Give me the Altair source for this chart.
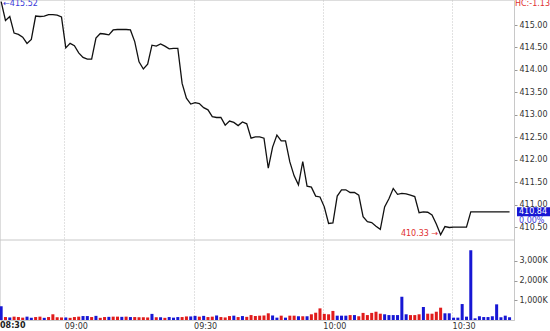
import altair as alt
import pandas as pd

START_MINUTE = 525  # 08:45, minutes after midnight

prices = [
    415.52, 415.10, 415.19, 414.82, 414.79, 414.73, 414.59, 414.68, 415.20, 415.19,
    415.20, 415.23, 415.23, 415.22, 415.18, 414.49, 414.59, 414.54, 414.38, 414.28,
    414.24, 414.24, 414.71, 414.81, 414.80, 414.78, 414.89, 414.90, 414.90, 414.90,
    414.89, 414.63, 414.18, 414.02, 414.13, 414.55, 414.53, 414.58, 414.53, 414.47,
    414.48, 414.48, 413.70, 413.37, 413.24, 413.27, 413.25, 413.16, 413.11, 412.96,
    412.94, 412.94, 412.77, 412.86, 412.83, 412.76, 412.84, 412.80, 412.48, 412.51,
    412.51, 412.48, 411.81, 412.28, 412.55, 412.42, 412.42, 411.95, 411.64, 411.44,
    411.96, 411.41, 411.39, 411.19, 411.17, 410.95, 410.58, 410.59, 411.19, 411.33,
    411.33, 411.27, 411.27, 411.21, 410.73, 410.62, 410.60, 410.52, 410.45, 410.95,
    411.13, 411.36, 411.23, 411.25, 411.24, 411.21, 411.18, 410.82, 410.84, 410.83,
    410.77, 410.57, 410.33, 410.51, 410.49, 410.50, 410.50, 410.50, 410.50, 410.84,
    410.84, 410.84, 410.84, 410.84, 410.84, 410.84, 410.84, 410.84, 410.84,
]

volume_k = [
    700, 150, 130, 170, 150, 120, 170, 110, 150, 170,
    110, 150, 290, 140, 130, 130, 110, 150, 170, 200,
    200, 150, 210, 110, 150, 160, 170, 170, 160, 170,
    150, 150, 140, 140, 130, 310, 140, 140, 110, 150,
    120, 150, 150, 180, 180, 210, 170, 210, 150, 170,
    230, 150, 130, 200, 220, 150, 200, 160, 250, 200,
    220, 230, 340, 230, 120, 220, 120, 220, 220, 190,
    190, 190, 290, 370, 590, 310, 290, 460, 220, 220,
    220, 250, 250, 190, 360, 250, 360, 420, 320, 290,
    250, 250, 250, 1180, 290, 250, 250, 290, 660, 320,
    320, 420, 625, 340, 340, 120, 120, 810, 170, 3540,
    85, 190, 150, 150, 190, 795, 140, 220, 140,
]

direction = list(
    "BRBRRRBBRRBRRRRBRRRBBRBRRBRRBRBRRRRBRBRBBBRRBBRBRRBRRRBRBRR"
    "R"
    "RRRBBRBRRBRBRRRRRRBBBRBRRRRRRBBBBBBRRRBRRRRBBBBBBBBBBBBBBBB"
)

tick_minutes = [540, 570, 600, 630]
tick_labels = ["09:00", "09:30", "10:00", "10:30"]
price_ticks = [410.5, 411.0, 411.5, 412.0, 412.5, 413.0, 413.5, 414.0, 414.5, 415.0]
volume_ticks = [1000, 2000, 3000]
day_label = ["08:30"]
change_label = ["HC:-1.13"]
pct_label = ["0.00%"]

n = len(prices)
df = pd.DataFrame({
    "minute": [START_MINUTE + i for i in range(n)],
    "price": prices,
    "vol": volume_k[:n],
    "dir": direction[:n],
})

FONT = "DejaVu Sans"
BLUE = "#1717d4"
RED = "#e01b1b"
TXT_BLUE = "#3a3ad8"
TXT_RED = "#e03030"
AXIS_GRAY = "#c8c8c8"

label_expr = ""
for m, l in zip(tick_minutes, tick_labels):
    label_expr += f"datum.value == {m} ? '{l}' : "
label_expr += "''"

x_scale = alt.Scale(domain=[525.08, 644.38], nice=False, zero=False)
x_axis = alt.Axis(values=tick_minutes, labelExpr=label_expr, grid=True,
                  gridColor="#c4c4c4", gridDash=[1, 2], ticks=False,
                  domainColor=AXIS_GRAY, labelAlign="left", labelBaseline="top",
                  labelPadding=2, labelFontSize=8, labelColor="#333",
                  labelFont=FONT, title=None)
price_scale = alt.Scale(domain=[408.43, 415.557], nice=False, zero=False)
price_axis = alt.Axis(orient="right", values=price_ticks, format=".2f", grid=False,
                      tickSize=3, tickColor="#999", domainColor=AXIS_GRAY,
                      labelPadding=2, labelFontSize=8, labelColor="#333",
                      labelFont=FONT, title=None)
vol_scale = alt.Scale(domain=[0, 16240], nice=False)
vol_axis = alt.Axis(orient="right", values=volume_ticks,
                    labelExpr="format(datum.value, ',') + 'K'", grid=False,
                    domain=False, tickSize=3, tickColor="#999", labelPadding=2,
                    labelFontSize=8, labelColor="#333", labelFont=FONT, title=None)


def X(field):
    return alt.X(field, scale=x_scale, axis=x_axis)


def Yp():
    return alt.Y("price:Q", scale=price_scale, axis=price_axis)


line = alt.Chart(df).transform_calculate(xc="datum.minute + 0.35").mark_line(
    color="#111111", strokeWidth=1.3
).encode(x=X("xc:Q"), y=Yp())

first_df = pd.DataFrame({"minute": [df.minute.iloc[0]], "price": [prices[0]],
                         "label": ["\u2190" + f"{prices[0]:.2f}"]})
first_text = alt.Chart(first_df).transform_calculate(xc="datum.minute + 0.35").mark_text(
    align="left", baseline="middle", dx=2, dy=2.5, fontSize=8, font=FONT, color=TXT_BLUE
).encode(x=X("xc:Q"), y=Yp(), text="label:N")

imin = prices.index(min(prices))
min_df = pd.DataFrame({"minute": [df.minute.iloc[imin]], "price": [prices[imin]],
                       "label": [f"{prices[imin]:.2f} \u2192"]})
min_text = alt.Chart(min_df).transform_calculate(xc="datum.minute + 0.35").mark_text(
    align="right", baseline="middle", dx=-2.5, dy=-1, fontSize=8, font=FONT, color=TXT_RED
).encode(x=X("xc:Q"), y=Yp(), text="label:N")

last_df = pd.DataFrame({"minute": [df.minute.iloc[-1]], "price": [prices[-1]],
                        "label": [f"{prices[-1]:.2f}"], "pct": pct_label})
last_box = alt.Chart(last_df).mark_tick(
    orient="horizontal", size=34, thickness=9, color=BLUE, opacity=1
).encode(x=alt.value(534), y=Yp())
last_text = alt.Chart(last_df).mark_text(
    align="left", baseline="middle", fontSize=8, font=FONT, color="white"
).encode(x=alt.value(519), y=Yp(), text="label:N")
pct_text = alt.Chart(last_df).mark_text(
    align="left", baseline="middle", dy=9, fontSize=8, font=FONT, color=TXT_BLUE
).encode(x=alt.value(519), y=Yp(), text="pct:N")

hc_text = alt.Chart(pd.DataFrame({"t": change_label})).mark_text(
    align="left", baseline="middle", fontSize=8, font=FONT, color=TXT_RED
).encode(x=alt.value(515), y=alt.value(4), text="t:N")

day_text = alt.Chart(pd.DataFrame({"t": day_label})).mark_text(
    align="left", baseline="top", fontSize=8, font=FONT, fontWeight="bold", color="#222"
).encode(x=alt.value(0), y=alt.value(322), text="t:N")

separator = alt.Chart(pd.DataFrame({"a": [0]})).mark_rule(color=AXIS_GRAY).encode(
    x=alt.value(0), x2=alt.value(514), y=alt.value(240)
)

price_group = alt.layer(separator, line, first_text, min_text, last_box, last_text,
                        pct_text, hc_text, day_text)

bars = alt.Chart(df).transform_calculate(
    xl="datum.minute", xr="datum.minute + 0.7", base="0"
).mark_bar().encode(
    x=X("xl:Q"),
    x2="xr:Q",
    y=alt.Y("vol:Q", scale=vol_scale, axis=vol_axis),
    y2="base:Q",
    color=alt.Color("dir:N", scale=alt.Scale(domain=["B", "R"], range=[BLUE, RED]),
                    legend=None),
)

chart = alt.layer(price_group, bars).resolve_scale(y="independent").properties(
    width=514, height=320,
    autosize=alt.AutoSizeParams(type="none"),
    padding={"left": 0, "top": 0, "right": 36, "bottom": 11},
).configure_view(stroke=None).configure(font=FONT)

chart.save("out.html", embed_options={"renderer": "svg", "actions": False})
